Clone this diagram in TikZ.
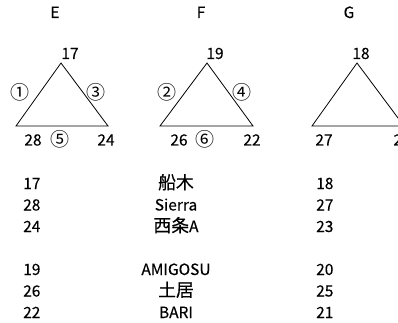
\documentclass[tikz,border=0pt]{standalone}
\usepackage{fontspec}
\setmainfont{Noto Sans CJK JP}[FakeBold=0.3]
\newfontfamily\cjk[Scale=1.15,FakeBold=0.3]{Noto Sans CJK JP}
\newfontfamily\ring{Noto Sans CJK JP}
\usetikzlibrary{positioning}

\begin{document}
\begin{tikzpicture}[x=1pt, y=-1pt,
lbl/.style={
		inner sep=0pt,
		anchor=base,
		font=\fontsize{15.5}{15.5}\selectfont,
		},
num/.style={lbl, anchor=base west},
circnum/.style={lbl, anchor=center, font=\fontsize{19}{19}\ring},
side/.style={line width=0.8pt, line join=miter}
]

\clip (0,0) rectangle (398,323);

\def \base {126}
\def \apex {63}
\def \row {21.5}

% the three triangles
\foreach \t/\l/\a/\r in {E/16/61/108, F/160/207/253, G/312/357/404}
{
  \coordinate (\t-l) at (\l,\base);
  \coordinate (\t-a) at (\a,\apex);
  \coordinate (\t-r) at (\r,\base);
  \draw[side] (\t-l) -- (\t-a) -- (\t-r) -- cycle;
}

% heading and corner numbers
\foreach \t/\hx/\ux/\up/\lx/\lo/\rx/\ro in {E/55/70/17/33/28/106/24, F/201/215/19/179/26/252/22, G/349/361/18/324/27/402/23}
{
  \node[lbl] (\t-head) at (\hx,18) {\t};
  \node[lbl] (\t-up) at (\ux,59) {\up};
  \node[lbl] (\t-lo) at (\lx,145.5) {\lo};
  \node[lbl] (\t-ro) at (\rx,145.5) {\ro};
}

% circled numbers
\node[circnum] (c1) at (20,92) {①};
\node[circnum] (c3) at (96,92) {③};
\node[circnum] (c5) at (60,139) {⑤};
\node[circnum] (c2) at (167,92) {②};
\node[circnum] (c4) at (242,92) {④};
\node[circnum] (c6) at (205,139) {⑥};

% list of points and names
\foreach \p/\n/\q [count=\i] in {17/{\cjk 船木}/18, 28/Sierra/27, 24/{\cjk 西条}A/23, 19/AMIGOSU/20, 26/{\cjk 土居}/25, 22/BARI/21}
{
  \pgfmathsetmacro{\y}{189 + \row*(\i-1) + (\i>3)*21.5}
  \node[num] (p\i) at (23,\y) {\p};
  \node[lbl] (n\i) at (176,\y) {\n};
  \node[num] (q\i) at (316,\y) {\q};
}

\end{tikzpicture}
\end{document}
